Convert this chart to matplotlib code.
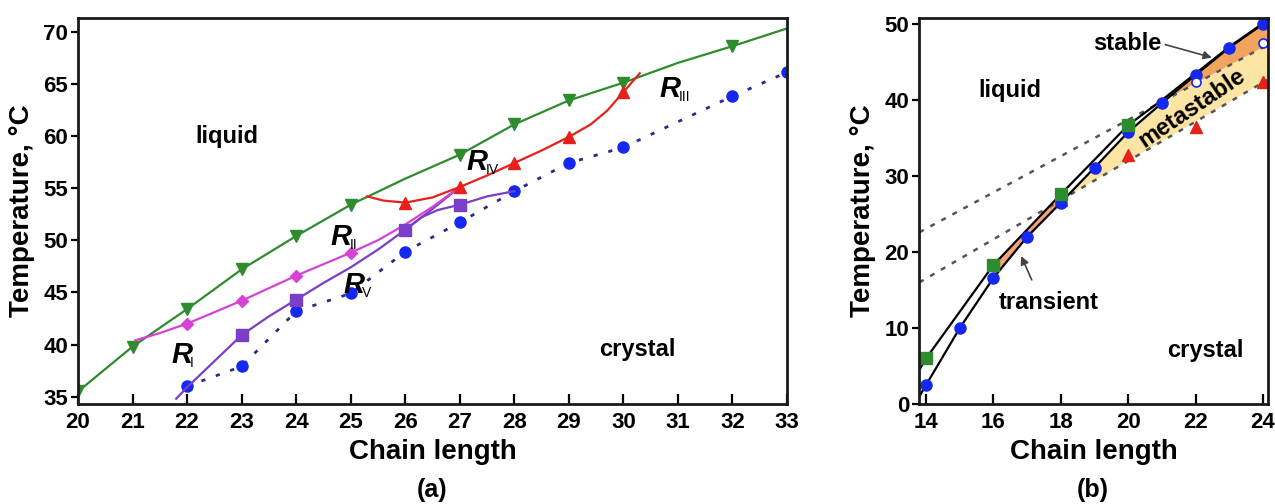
import matplotlib.pyplot as plt
import numpy as np

plt.rcParams['font.family'] = ['Liberation Sans', 'DejaVu Sans']
plt.rcParams['font.weight'] = 'bold'

# ---- panel (a) data ----
liq_x = [20, 21, 22, 23, 24, 25, 27, 28, 29, 30, 32]
liq_T = [35.5, 39.8, 43.4, 47.2, 50.4, 53.4, 58.2, 61.1, 63.4, 65.1, 68.6]
liq_line_x = [20, 21, 22, 23, 24, 25, 26, 27, 28, 29, 30, 31, 32, 33]
liq_line_T = [35.5, 39.8, 43.4, 47.2, 50.4, 53.4, 55.9, 58.2, 61.1, 63.4, 65.1, 67.0, 68.6, 70.3]

r2_x = [22, 23, 24, 25]
r2_T = [42.0, 44.2, 46.6, 48.8]
r2_line_x = [21.05, 21.5, 22, 22.5, 23, 23.5, 24, 24.5, 25, 25.5, 26, 26.5, 27]
r2_line_T = [40.4, 41.1, 42.0, 43.1, 44.2, 45.4, 46.6, 47.7, 48.8, 50.0, 51.5, 53.2, 55.1]

r5_x = [23, 24, 26, 27]
r5_T = [40.9, 44.3, 51.0, 53.4]
r1_line_x = [21.8, 22, 22.5, 23, 23.5, 24, 24.5, 25, 25.5, 26, 26.5, 27]
r1_line_T = [34.8, 35.9, 38.4, 40.9, 42.7, 44.3, 45.9, 47.4, 49.1, 51.0, 53.0, 55.1]
r5_line_x = [26, 26.3, 26.6, 27, 27.5, 28]
r5_line_T = [51.0, 52.2, 52.9, 53.4, 54.2, 54.7]

r4_x = [26, 27, 28, 29, 30]
r4_T = [53.6, 55.1, 57.4, 59.9, 64.2]
r4_line_x = [25.3, 25.6, 26, 26.5, 27, 27.5, 28, 28.5, 29, 29.4, 29.7, 30, 30.3]
r4_line_T = [54.2, 53.8, 53.6, 54.1, 55.1, 56.2, 57.4, 58.6, 59.9, 61.1, 62.4, 64.2, 66.0]

sol_x = [22, 23, 24, 25, 26, 27, 28, 29, 30, 32, 33]
sol_T = [36.0, 37.9, 43.2, 44.9, 48.9, 51.7, 54.7, 57.4, 58.9, 63.8, 66.1]

# ---- panel (b) data ----
b_blue_x = [14, 15, 16, 17, 18, 19, 20, 21, 22, 23, 24]
b_blue_T = [2.5, 10.0, 16.6, 22.0, 26.5, 31.1, 35.8, 39.6, 43.3, 46.9, 50.0]
b_green_x = [14, 16, 18, 20]
b_green_T = [6.0, 18.3, 27.6, 36.7]
b_red_x = [18, 20, 22, 24]
b_red_T = [26.8, 32.8, 36.4, 42.4]
b_open_x = [22, 24]
b_open_T = [42.4, 47.5]

lineA_x = [13.8, 14, 16, 18, 20, 21, 22, 23, 24, 24.15]
lineA_T = [4.5, 6.0, 18.3, 27.6, 36.7, 40.0, 43.5, 47.0, 50.1, 50.6]
lineB_x = [13.8, 14, 15, 16, 17, 18, 19, 20, 21, 22, 23, 24, 24.15]
lineB_T = [1.0, 2.5, 10.0, 16.6, 22.0, 26.5, 31.1, 35.8, 39.6, 43.3, 46.9, 50.0, 50.5]

dot_up_x = [13.8, 24.15]
dot_up_T = [22.6, 47.3]
dot_lo_x = [13.8, 24.15]
dot_lo_T = [16.0, 42.7]

fig = plt.figure(figsize=(12.75, 5.04), dpi=100)
axa = fig.add_axes([78/1275, 100/504, 709/1275, 386/504])
axb = fig.add_axes([919/1275, 100/504, 349/1275, 386/504])

navy = '#2a2a8a'
green = '#2e8b2e'
magenta = '#d642d6'
purple = '#7a3ec8'
red = '#e8201a'
blue = '#1428f0'

# panel (a)
axa.plot(sol_x, sol_T, color=navy, lw=2, ls=(0, (1.5, 4)))
axa.plot(sol_x, sol_T, 'o', color=blue, ms=8)
axa.plot(liq_line_x, liq_line_T, color=green, lw=1.6)
axa.plot(liq_x, liq_T, 'v', color=green, ms=8.5)
axa.plot(r1_line_x, r1_line_T, color=purple, lw=1.6)
axa.plot(r5_line_x, r5_line_T, color=purple, lw=1.6)
axa.plot(r2_line_x, r2_line_T, color=magenta, lw=1.6)
axa.plot(r2_x, r2_T, 'D', color=magenta, ms=6)
axa.plot(r5_x, r5_T, 's', color=purple, ms=8.5)
axa.plot(r4_line_x, r4_line_T, color=red, lw=1.6)
axa.plot(r4_x, r4_T, '^', color=red, ms=8.5)

axa.set_xlim(20, 33)
axa.set_ylim(34.3, 71.3)
axa.set_xticks(range(20, 34))
axa.set_yticks(range(35, 71, 5))

axa.text(22.73, 59.9, 'liquid', fontsize=17, ha='center', va='center')
axa.text(30.26, 39.5, 'crystal', fontsize=17, ha='center', va='center')
r_labels = [(21.9, 39.0, 'I'), (24.83, 50.3, 'II'), (30.86, 64.5, 'III'),
            (27.32, 57.5, 'IV'), (25.06, 45.7, 'V')]
for x, y, sub in r_labels:
    axa.text(x, y, 'R', fontsize=21, fontstyle='italic', fontweight='bold',
             ha='center', va='center')
    axa.annotate(sub, xy=(x, y), xytext=(6, -6), textcoords='offset points',
                 fontsize=10, fontweight='normal', ha='left', va='center')

# panel (b)
axb.fill(lineA_x[2:4] + lineB_x[3:6][::-1], lineA_T[2:4] + lineB_T[3:6][::-1],
         color='#f4a47a', lw=0)
up21 = np.interp(21, dot_up_x, dot_up_T)
lo18 = np.interp(18, dot_lo_x, dot_lo_T)
yx = lineB_x[5:9] + [24.15, 24.15, 18]
yT = lineB_T[5:9] + [dot_up_T[1], dot_lo_T[1], lo18]
axb.fill(yx, yT, color='#fbe4a4', lw=0)
sx = lineB_x[8:] + [24.15, 21]
sT = lineB_T[8:] + [dot_up_T[1], up21]
axb.fill(sx, sT, color='#f2a45e', lw=0)

axb.plot(dot_up_x, dot_up_T, color='#555555', lw=1.8, ls=(0, (2, 3)))
axb.plot(dot_lo_x, dot_lo_T, color='#555555', lw=1.8, ls=(0, (2, 3)))
axb.plot(lineA_x, lineA_T, color='black', lw=1.6)
axb.plot(lineB_x, lineB_T, color='black', lw=1.6)
axb.plot(b_red_x, b_red_T, '^', color=red, ms=8.5)
axb.plot(b_blue_x, b_blue_T, 'o', color=blue, ms=8)
axb.plot(b_green_x, b_green_T, 's', color=green, ms=8.5)
axb.plot(b_open_x, b_open_T, 'o', mfc='white', mec=blue, mew=1.2, ms=6.5)

axb.set_xlim(13.79, 24.15)
axb.set_ylim(0, 50.8)
axb.set_xticks(range(14, 25, 2))
axb.set_yticks(range(0, 51, 10))

axb.text(16.49, 41.2, 'liquid', fontsize=17, ha='center', va='center')
axb.text(22.3, 7.1, 'crystal', fontsize=17, ha='center', va='center')
axb.text(19.96, 47.4, 'stable', fontsize=17, ha='center', va='center')
axb.annotate('', xy=(22.56, 45.5), xytext=(21.02, 47.4),
             arrowprops=dict(arrowstyle='-|>', color='#444444', lw=1.2, mutation_scale=12))
axb.text(17.64, 13.4, 'transient', fontsize=17, ha='center', va='center')
axb.annotate('', xy=(16.79, 19.8), xytext=(17.17, 16.0),
             arrowprops=dict(arrowstyle='-|>', color='#444444', lw=1.2, mutation_scale=12))
axb.text(21.9, 39.0, 'metastable', fontsize=17, ha='center', va='center',
         rotation=34, rotation_mode='anchor')

for ax in (axa, axb):
    for sp in ax.spines.values():
        sp.set_linewidth(2)
        sp.set_color('#1a1a1a')
    ax.tick_params(axis='x', direction='in', length=7, width=1.6, labelsize=16, pad=6)
    ax.tick_params(axis='y', direction='out', length=5, width=1.6, labelsize=16, pad=2)
    for lab in ax.get_xticklabels() + ax.get_yticklabels():
        lab.set_fontweight('bold')
    ax.set_xlabel('Chain length', fontsize=20, fontweight='bold', labelpad=4)
    ax.set_ylabel('Temperature, \u00b0C', fontsize=20, fontweight='bold', labelpad=6)

fig.text(432/1275, 1 - 490/504, '(a)', fontsize=18, fontweight='bold', ha='center', va='center')
fig.text(1093/1275, 1 - 490/504, '(b)', fontsize=18, fontweight='bold', ha='center', va='center')

fig.savefig('out.png', dpi=100)
